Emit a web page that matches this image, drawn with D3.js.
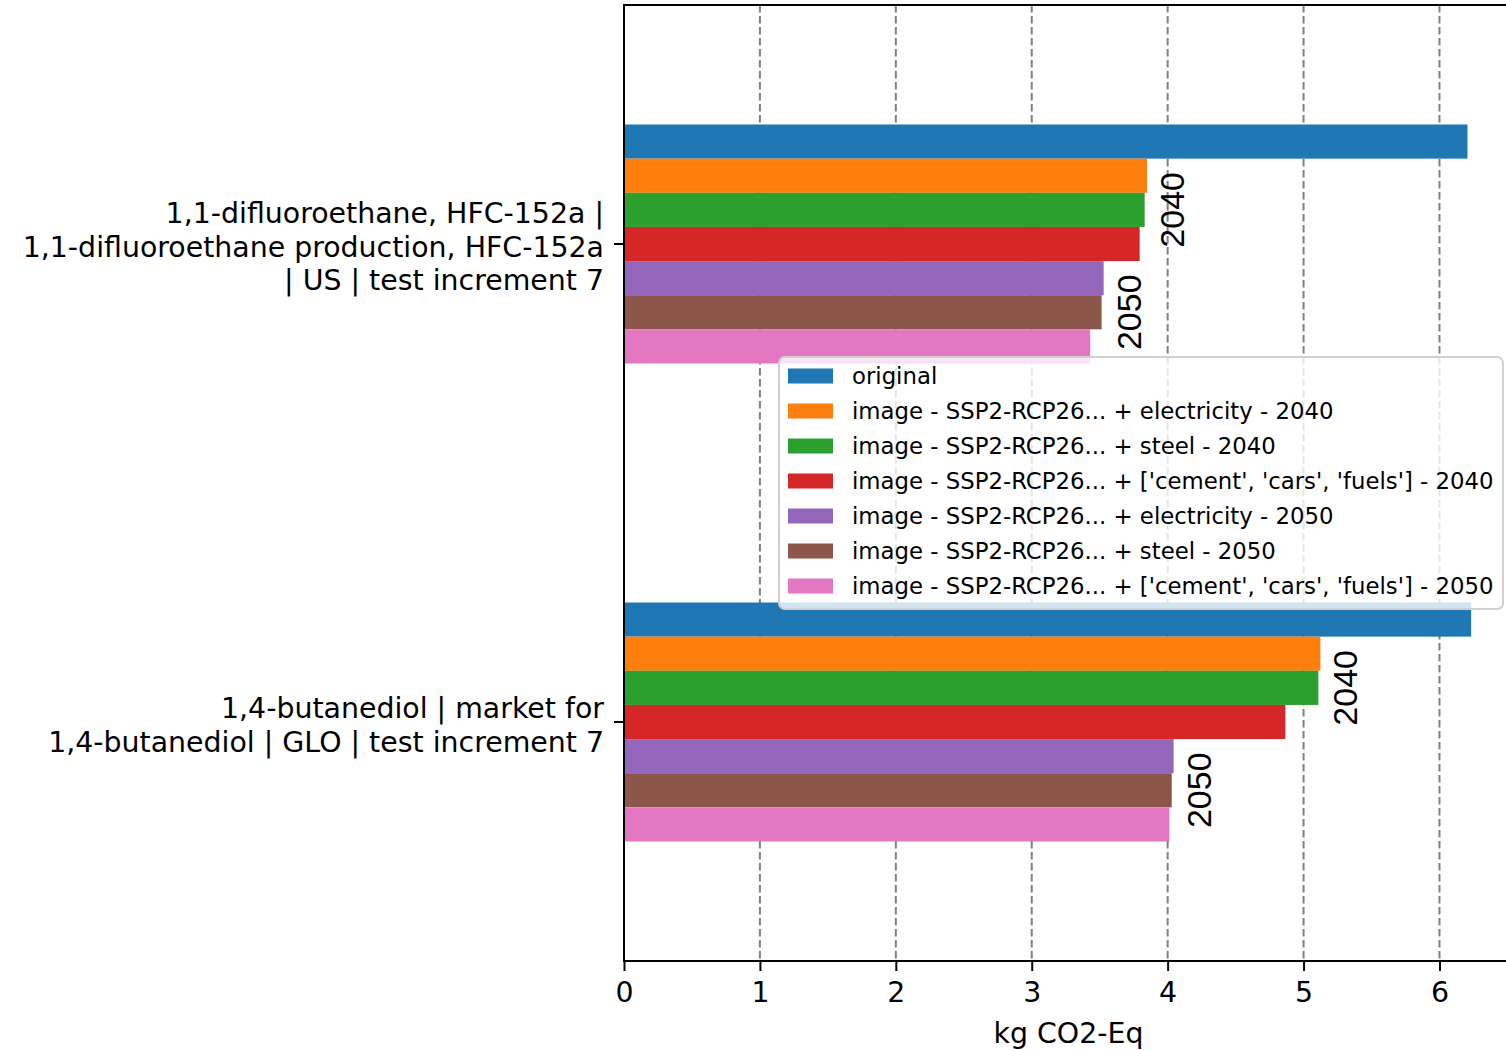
<!DOCTYPE html>
<html>
<head>
<meta charset="utf-8">
<script src="https://cdn.jsdelivr.net/npm/d3@7"></script>
<style>
  body { margin: 0; background: #fff; }
  svg { display: block; }
</style>
</head>
<body>
<div id="chart"></div>
<script>
// data
const categories = [
  "1,1-difluoroethane, HFC-152a | 1,1-difluoroethane production, HFC-152a | US | test increment 7",
  "1,4-butanediol | market for 1,4-butanediol | GLO | test increment 7"
];
const categoryLines = [
  ["1,1-difluoroethane, HFC-152a |", "1,1-difluoroethane production, HFC-152a", "| US | test increment 7"],
  ["1,4-butanediol | market for", "1,4-butanediol | GLO | test increment 7"]
];
const seriesNames = [
  "original",
  "image - SSP2-RCP26... + electricity - 2040",
  "image - SSP2-RCP26... + steel - 2040",
  "image - SSP2-RCP26... + ['cement', 'cars', 'fuels'] - 2040",
  "image - SSP2-RCP26... + electricity - 2050",
  "image - SSP2-RCP26... + steel - 2050",
  "image - SSP2-RCP26... + ['cement', 'cars', 'fuels'] - 2050"
];
const seriesYears = [null, "2040", "2040", "2040", "2050", "2050", "2050"];
// values per series, one entry per category
const values = [
  [6.206, 6.233],
  [3.848, 5.124],
  [3.831, 5.109],
  [3.794, 4.866],
  [3.529, 4.044],
  [3.514, 4.030],
  [3.430, 4.013]
];
const years = ["2040", "2050"];
const xTicks = [0, 1, 2, 3, 4, 5, 6];
const colors = ["#1f77b4", "#ff7f0e", "#2ca02c", "#d62728", "#9467bd", "#8c564b", "#e377c2"];

const W = 1506, H = 1050;
const plotLeft = 624, plotTop = 5, plotBottom = 961;
const font = "'DejaVu Sans', sans-serif";
const fs = "28.4px";

const svg = d3.select("#chart").append("svg")
  .attr("width", W).attr("height", H);

const xMax = d3.max(values.flat()) * 1.05;
const x = d3.scaleLinear().domain([0, xMax]).range([plotLeft, plotLeft + 889.5]);
const y = d3.scaleBand().domain(categories).range([plotTop, plotBottom]).padding(0);
const inner = d3.scaleBand().domain(d3.range(seriesNames.length))
  .range([y.bandwidth() * 0.25, y.bandwidth() * 0.75]);

svg.append("defs").append("clipPath").attr("id", "clip")
  .append("rect").attr("x", plotLeft).attr("y", plotTop)
  .attr("width", W - plotLeft).attr("height", plotBottom - plotTop);

// grid (below bars)
svg.append("g")
  .selectAll("line")
  .data(xTicks.filter(d => d > 0))
  .join("line")
  .attr("x1", d => x(d)).attr("x2", d => x(d))
  .attr("y1", plotTop).attr("y2", plotBottom)
  .attr("stroke", "#808080")
  .attr("stroke-width", 2)
  .attr("stroke-dasharray", "7.5,3.5");

// bars
const plot = svg.append("g").attr("clip-path", "url(#clip)");
values.forEach((vals, s) => {
  plot.append("g")
    .selectAll("rect")
    .data(vals)
    .join("rect")
    .attr("x", x(0))
    .attr("y", (d, i) => y(categories[i]) + inner(s))
    .attr("width", d => x(d) - x(0))
    .attr("height", inner.bandwidth())
    .attr("fill", colors[s]);
});

// year labels
categories.forEach((c, ci) => {
  years.forEach(yr => {
    const idx = seriesYears.map((v, i) => v === yr ? i : -1).filter(i => i >= 0);
    const maxV = d3.max(idx, i => values[i][ci]);
    const yMid = y(c) + (inner(idx[0]) + inner(idx[idx.length - 1]) + inner.bandwidth()) / 2;
    const px = x(maxV) + 37;
    svg.append("text")
      .attr("transform", `translate(${px},${yMid}) rotate(-90)`)
      .attr("text-anchor", "middle")
      .style("font-family", "'Liberation Sans', Arial, sans-serif")
      .style("font-size", "34px")
      .attr("fill", "#000")
      .text(yr);
  });
});

// spines
svg.append("line").attr("x1", plotLeft).attr("x2", W).attr("y1", plotTop).attr("y2", plotTop)
  .attr("stroke", "#000").attr("stroke-width", 2);
svg.append("line").attr("x1", plotLeft).attr("x2", W).attr("y1", plotBottom).attr("y2", plotBottom)
  .attr("stroke", "#000").attr("stroke-width", 2);
svg.append("line").attr("x1", plotLeft).attr("x2", plotLeft).attr("y1", plotTop - 1).attr("y2", plotBottom + 1)
  .attr("stroke", "#000").attr("stroke-width", 2);

// x axis
const xAxis = svg.append("g")
  .attr("transform", `translate(0,${plotBottom})`)
  .call(d3.axisBottom(x).tickValues(xTicks).tickFormat(d3.format("d")).tickSize(10).tickPadding(11));
xAxis.select(".domain").remove();
xAxis.selectAll(".tick line").attr("stroke-width", 2);
xAxis.selectAll(".tick text").style("font-family", font).style("font-size", fs).attr("fill", "#000");

svg.append("text")
  .attr("x", x(0) + (W - plotLeft + 7) / 2).attr("y", 1043)
  .attr("text-anchor", "middle")
  .style("font-family", font).style("font-size", fs)
  .text("kg CO2-Eq");

// y axis ticks + labels
categories.forEach((c, ci) => {
  const cy = y(c) + y.bandwidth() / 2;
  svg.append("line").attr("x1", plotLeft - 10).attr("x2", plotLeft).attr("y1", cy).attr("y2", cy)
    .attr("stroke", "#000").attr("stroke-width", 2);
  const lines = categoryLines[ci];
  const lh = 33.5;
  const t = svg.append("text")
    .attr("text-anchor", "end")
    .style("font-family", font).style("font-size", fs);
  lines.forEach((ln, li) => {
    t.append("tspan")
      .attr("x", plotLeft - 20)
      .attr("y", cy + 3 + (li - (lines.length - 1) / 2) * lh)
      .attr("dy", "0.35em")
      .text(ln);
  });
});

// legend
const lg = svg.append("g");
lg.append("rect")
  .attr("x", 779).attr("y", 357).attr("width", 724).attr("height", 252)
  .attr("rx", 6)
  .attr("fill", "#fff").attr("fill-opacity", 0.8)
  .attr("stroke", "#d0d0d0").attr("stroke-width", 2);
seriesNames.forEach((name, i) => {
  const cy = 376 + i * 35;
  lg.append("rect").attr("x", 788).attr("y", cy - 7.5).attr("width", 45).attr("height", 15)
    .attr("fill", colors[i]);
  lg.append("text").attr("x", 852).attr("y", cy).attr("dy", "0.35em")
    .style("font-family", font).style("font-size", "22.8px")
    .text(name);
});
</script>
</body>
</html>
